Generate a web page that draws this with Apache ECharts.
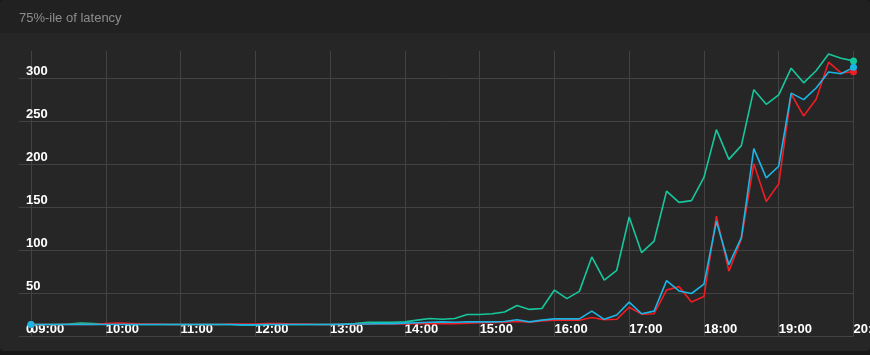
<!DOCTYPE html>
<html>
<head>
<meta charset="utf-8">
<script src="https://cdn.jsdelivr.net/npm/echarts@6/dist/echarts.min.js"></script>
<style>
  html, body { margin: 0; padding: 0; background: #171717; width: 870px; height: 355px; overflow: hidden; }
  #panel { position: absolute; left: 0; top: 0; width: 870px; height: 351px; background: #262626; border-radius: 4px; overflow: hidden; }
  #header { position: absolute; left: 0; top: 0; width: 870px; height: 33px; background: #212121; }
  #chart { position: absolute; left: 0; top: 0; width: 870px; height: 355px; }
</style>
</head>
<body>
<div id="panel"><div id="header"></div></div>
<div id="chart"></div>
<script>
// Time of day in hours, one point every 10 minutes from 09:00 to 20:00
const hourTicks = [9, 10, 11, 12, 13, 14, 15, 16, 17, 18, 19, 20];
const yTicks = [0, 50, 100, 150, 200, 250, 300];
const title = "75%-ile of latency";

const greenValues = [
  14, 14, 14, 14.5, 15.5, 15, 14.5, 14.5, 14, 14, 14, 14,
  14, 14, 14, 14, 14, 13.5, 13.5, 14, 14, 14, 14, 14,
  14, 14.5, 15, 16.5, 16.5, 16.5, 17, 19, 21, 20, 21, 25.5,
  25.5, 26.5, 28.5, 36, 31.5, 32.5, 54, 44, 52.5, 92.5, 65.5, 77,
  139, 97.5, 111, 169, 156, 158, 185, 240.5, 206, 222, 287, 270,
  281, 312, 295, 309, 328.5, 323.5, 320.5
];
const redValues = [
  14, 14, 14, 14, 14, 14, 15, 15.5, 15, 14.5, 14.5, 14,
  14, 14, 14, 14, 14.5, 14.5, 14.5, 15, 15, 14.5, 14.5, 14,
  14, 14, 14, 14.5, 14.5, 14.5, 14.5, 15, 15, 15, 15, 15.5,
  16, 16, 16.5, 17.5, 16.5, 18, 19, 19, 19, 22, 19.5, 20,
  34, 26, 26.5, 54, 58, 40, 46.5, 140, 76, 113, 201, 157,
  177.5, 282, 256.5, 276, 319, 306.5, 308
];
const cyanValues = [
  14, 14, 14, 14, 14, 14, 14, 14, 14, 14, 14, 14,
  14, 14, 14, 14, 14, 13.5, 13.5, 14, 14, 14, 14, 14,
  14, 14, 14.5, 14.5, 15, 15, 15.5, 16, 16.5, 17, 16.5, 17,
  17, 17, 17.5, 19.5, 17, 19, 20.5, 20.5, 20.5, 29.5, 20, 25,
  40, 26.5, 29.5, 65, 53, 50, 61, 134, 83.5, 115, 218.5, 184.5,
  198, 283, 275.5, 289, 307.5, 305.5, 313
];

const startHour = hourTicks[0];
const stepHours = 1 / 6;
function toPairs(vals) {
  return vals.map((v, i) => [startHour + i * stepHours, v]);
}
function fmtHour(v) {
  const h = Math.round(v);
  return (h < 10 ? '0' : '') + h + ':00';
}

const chart = echarts.init(document.getElementById('chart'), null, { renderer: 'canvas' });
const lastIndex = greenValues.length - 1;
function endSymbol(val, params) {
  return (params.dataIndex === 0 || params.dataIndex === lastIndex) ? 7 : 0;
}
const gridLineColor = '#424242';
const labelFont = { color: '#ffffff', fontWeight: 'bold', fontSize: 13, fontFamily: 'Liberation Sans, Arial, sans-serif' };
const yMax = 332;

function lineSeries(name, vals, color) {
  return {
    name: name,
    type: 'line',
    xAxisIndex: 0,
    yAxisIndex: 0,
    data: toPairs(vals),
    showSymbol: true,
    symbol: 'circle',
    symbolSize: endSymbol,
    lineStyle: { color: color, width: 1.6 },
    itemStyle: { color: color },
    animation: false,
    silent: true
  };
}

chart.setOption({
  backgroundColor: 'transparent',
  animation: false,
  title: {
    text: title,
    left: 19,
    top: 12,
    padding: 0,
    textStyle: { color: '#8d8d8d', fontSize: 13, fontWeight: 'normal', fontFamily: 'Liberation Sans, Arial, sans-serif' }
  },
  grid: [
    { left: 31, top: 51, width: 822.5, height: 285.5, containLabel: false, outerBoundsMode: 'none' },
    { left: 19, top: 51, width: 12, height: 285.5, containLabel: false, outerBoundsMode: 'none' }
  ],
  xAxis: [
    {
      type: 'value', gridIndex: 0, min: hourTicks[0], max: hourTicks[hourTicks.length - 1], interval: 1,
      axisLine: { show: false }, axisTick: { show: false },
      splitLine: { show: true, lineStyle: { color: gridLineColor, width: 1 } },
      axisLabel: Object.assign({ inside: true, align: 'left', verticalAlign: 'bottom', margin: 1, formatter: fmtHour, showMaxLabel: true, hideOverlap: false }, labelFont)
    },
    { type: 'value', gridIndex: 1, min: 0, max: 1, show: false }
  ],
  yAxis: [
    {
      type: 'value', gridIndex: 0, min: yTicks[0], max: yMax, interval: 50,
      axisLine: { show: false }, axisTick: { show: false }, axisLabel: { show: false },
      splitLine: { show: true, showMaxLine: false, lineStyle: { color: gridLineColor, width: 1 } }
    },
    {
      type: 'value', gridIndex: 1, min: yTicks[0], max: yMax, interval: 50,
      axisLine: { show: false }, axisTick: { show: false },
      splitLine: { show: true, showMaxLine: false, lineStyle: { color: gridLineColor, width: 1 } },
      axisLabel: Object.assign({ inside: true, align: 'left', verticalAlign: 'bottom', margin: 7, showMaxLabel: false, padding: [0, 0, 1, 0],
        formatter: function (v) { return yTicks.indexOf(v) >= 0 ? String(v) : ''; } }, labelFont)
    }
  ],
  series: [
    lineSeries('a', greenValues, '#16c79c'),
    lineSeries('b', redValues, '#f01d24'),
    lineSeries('c', cyanValues, '#1ab6e6')
  ]
});
</script>
</body>
</html>
